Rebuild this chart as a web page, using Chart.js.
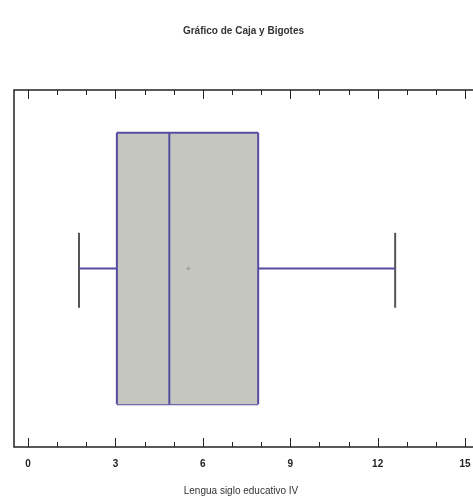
<!DOCTYPE html>
<html>
<head>
<meta charset="utf-8">
<script src="https://cdn.jsdelivr.net/npm/chart.js@4"></script>
<style>
  html, body { margin: 0; padding: 0; background: #fff; }
  #wrap { width: 473px; height: 497px; }
</style>
</head>
<body>
<div id="wrap"><canvas id="myChart"></canvas></div>
<script>
// datos
const categories = ['Lengua siglo educativo IV'];
const minVals = [1.75];
const q1Vals = [3.05];
const medianVals = [4.85];
const q3Vals = [7.9];
const maxVals = [12.6];
const meanVals = [5.5];
const tickLabels = [0, 3, 6, 9, 12, 15];

const lineColor = 'rgb(84, 76, 160)';
const boxFill = 'rgb(198, 198, 192)';

// alturas relativas de la caja (eje vertical oculto 0..1)
const boxTop = 0.88, boxBottom = 0.12, capTop = 0.6, capBottom = 0.39, mid = 0.5;

const i = 0;
const seg = (pts, extra) => Object.assign({
  data: pts, showLine: true, borderColor: lineColor, borderWidth: 2,
  pointRadius: 0, fill: false, order: 0
}, extra || {});

const datasets = [
  // borde inferior y superior de la caja (relleno entre ambos), se dibujan primero
  seg([{x: q1Vals[i], y: boxBottom}, {x: q3Vals[i], y: boxBottom}], {order: 10}),
  seg([{x: q1Vals[i], y: boxTop}, {x: q3Vals[i], y: boxTop}], {fill: '-1', backgroundColor: boxFill, order: 9}),
  // lados y mediana
  seg([{x: q1Vals[i], y: boxBottom}, {x: q1Vals[i], y: boxTop}]),
  seg([{x: q3Vals[i], y: boxBottom}, {x: q3Vals[i], y: boxTop}]),
  seg([{x: medianVals[i], y: boxBottom}, {x: medianVals[i], y: boxTop}]),
  // bigotes
  seg([{x: minVals[i], y: mid}, {x: q1Vals[i], y: mid}]),
  seg([{x: q3Vals[i], y: mid}, {x: maxVals[i], y: mid}]),
  seg([{x: minVals[i], y: capBottom}, {x: minVals[i], y: capTop}], {borderColor: '#555'}),
  seg([{x: maxVals[i], y: capBottom}, {x: maxVals[i], y: capTop}], {borderColor: '#555'}),
  // media
  {data: [{x: meanVals[i], y: mid}], pointStyle: 'cross', pointRadius: 2, borderColor: '#999', borderWidth: 1, showLine: false, order: 0}
];

// marco y marcas de graduación hacia dentro
const framePlugin = {
  id: 'frame',
  afterDraw(chart) {
    const {ctx, chartArea: a, scales: {x}} = chart;
    ctx.save();
    ctx.strokeStyle = '#222';
    ctx.lineWidth = 1.5;
    ctx.strokeRect(a.left, a.top, a.right - a.left + 10, a.bottom - a.top);
    ctx.lineWidth = 1;
    for (let v = 0; v <= 15; v++) {
      const px = Math.round(x.getPixelForValue(v)) + 0.5;
      const len = tickLabels.includes(v) ? 9 : 5;
      ctx.beginPath();
      ctx.moveTo(px, a.bottom); ctx.lineTo(px, a.bottom - len);
      ctx.moveTo(px, a.top); ctx.lineTo(px, a.top + len);
      ctx.stroke();
    }
    ctx.restore();
  }
};

new Chart(document.getElementById('myChart'), {
  type: 'scatter',
  data: { datasets },
  plugins: [framePlugin],
  options: {
    responsive: true,
    maintainAspectRatio: false,
    animation: false,
    layout: { padding: { left: 14, right: 0, top: 0, bottom: 0 } },
    plugins: {
      legend: { display: false },
      tooltip: { enabled: false },
      title: {
        display: true,
        text: 'Gráfico de Caja y Bigotes',
        color: '#333',
        font: { family: 'Liberation Sans Narrow, Arial Narrow, Liberation Sans', size: 10, weight: 'bold' },
        padding: { top: 25, bottom: 53 }
      }
    },
    scales: {
      x: {
        type: 'linear',
        min: -0.48,
        max: 15.1,
        afterBuildTicks(scale) { scale.ticks = tickLabels.map(v => ({value: v})); },
        afterFit(scale) { scale.paddingLeft = 0; scale.paddingRight = 0; },
        ticks: {
          color: '#222',
          font: { family: 'Liberation Sans Narrow, Liberation Sans', size: 10, weight: 'bold' },
          padding: 11,
          maxRotation: 0,
          autoSkip: false
        },
        grid: { display: false, drawTicks: false },
        border: { display: false },
        title: {
          display: true,
          text: categories[0],
          color: '#333',
          font: { family: 'Liberation Sans Narrow, Liberation Sans', size: 10 },
          padding: { top: 4, bottom: 0 }
        }
      },
      y: {
        type: 'linear', min: 0, max: 1, display: false
      }
    }
  }
});
</script>
</body>
</html>
